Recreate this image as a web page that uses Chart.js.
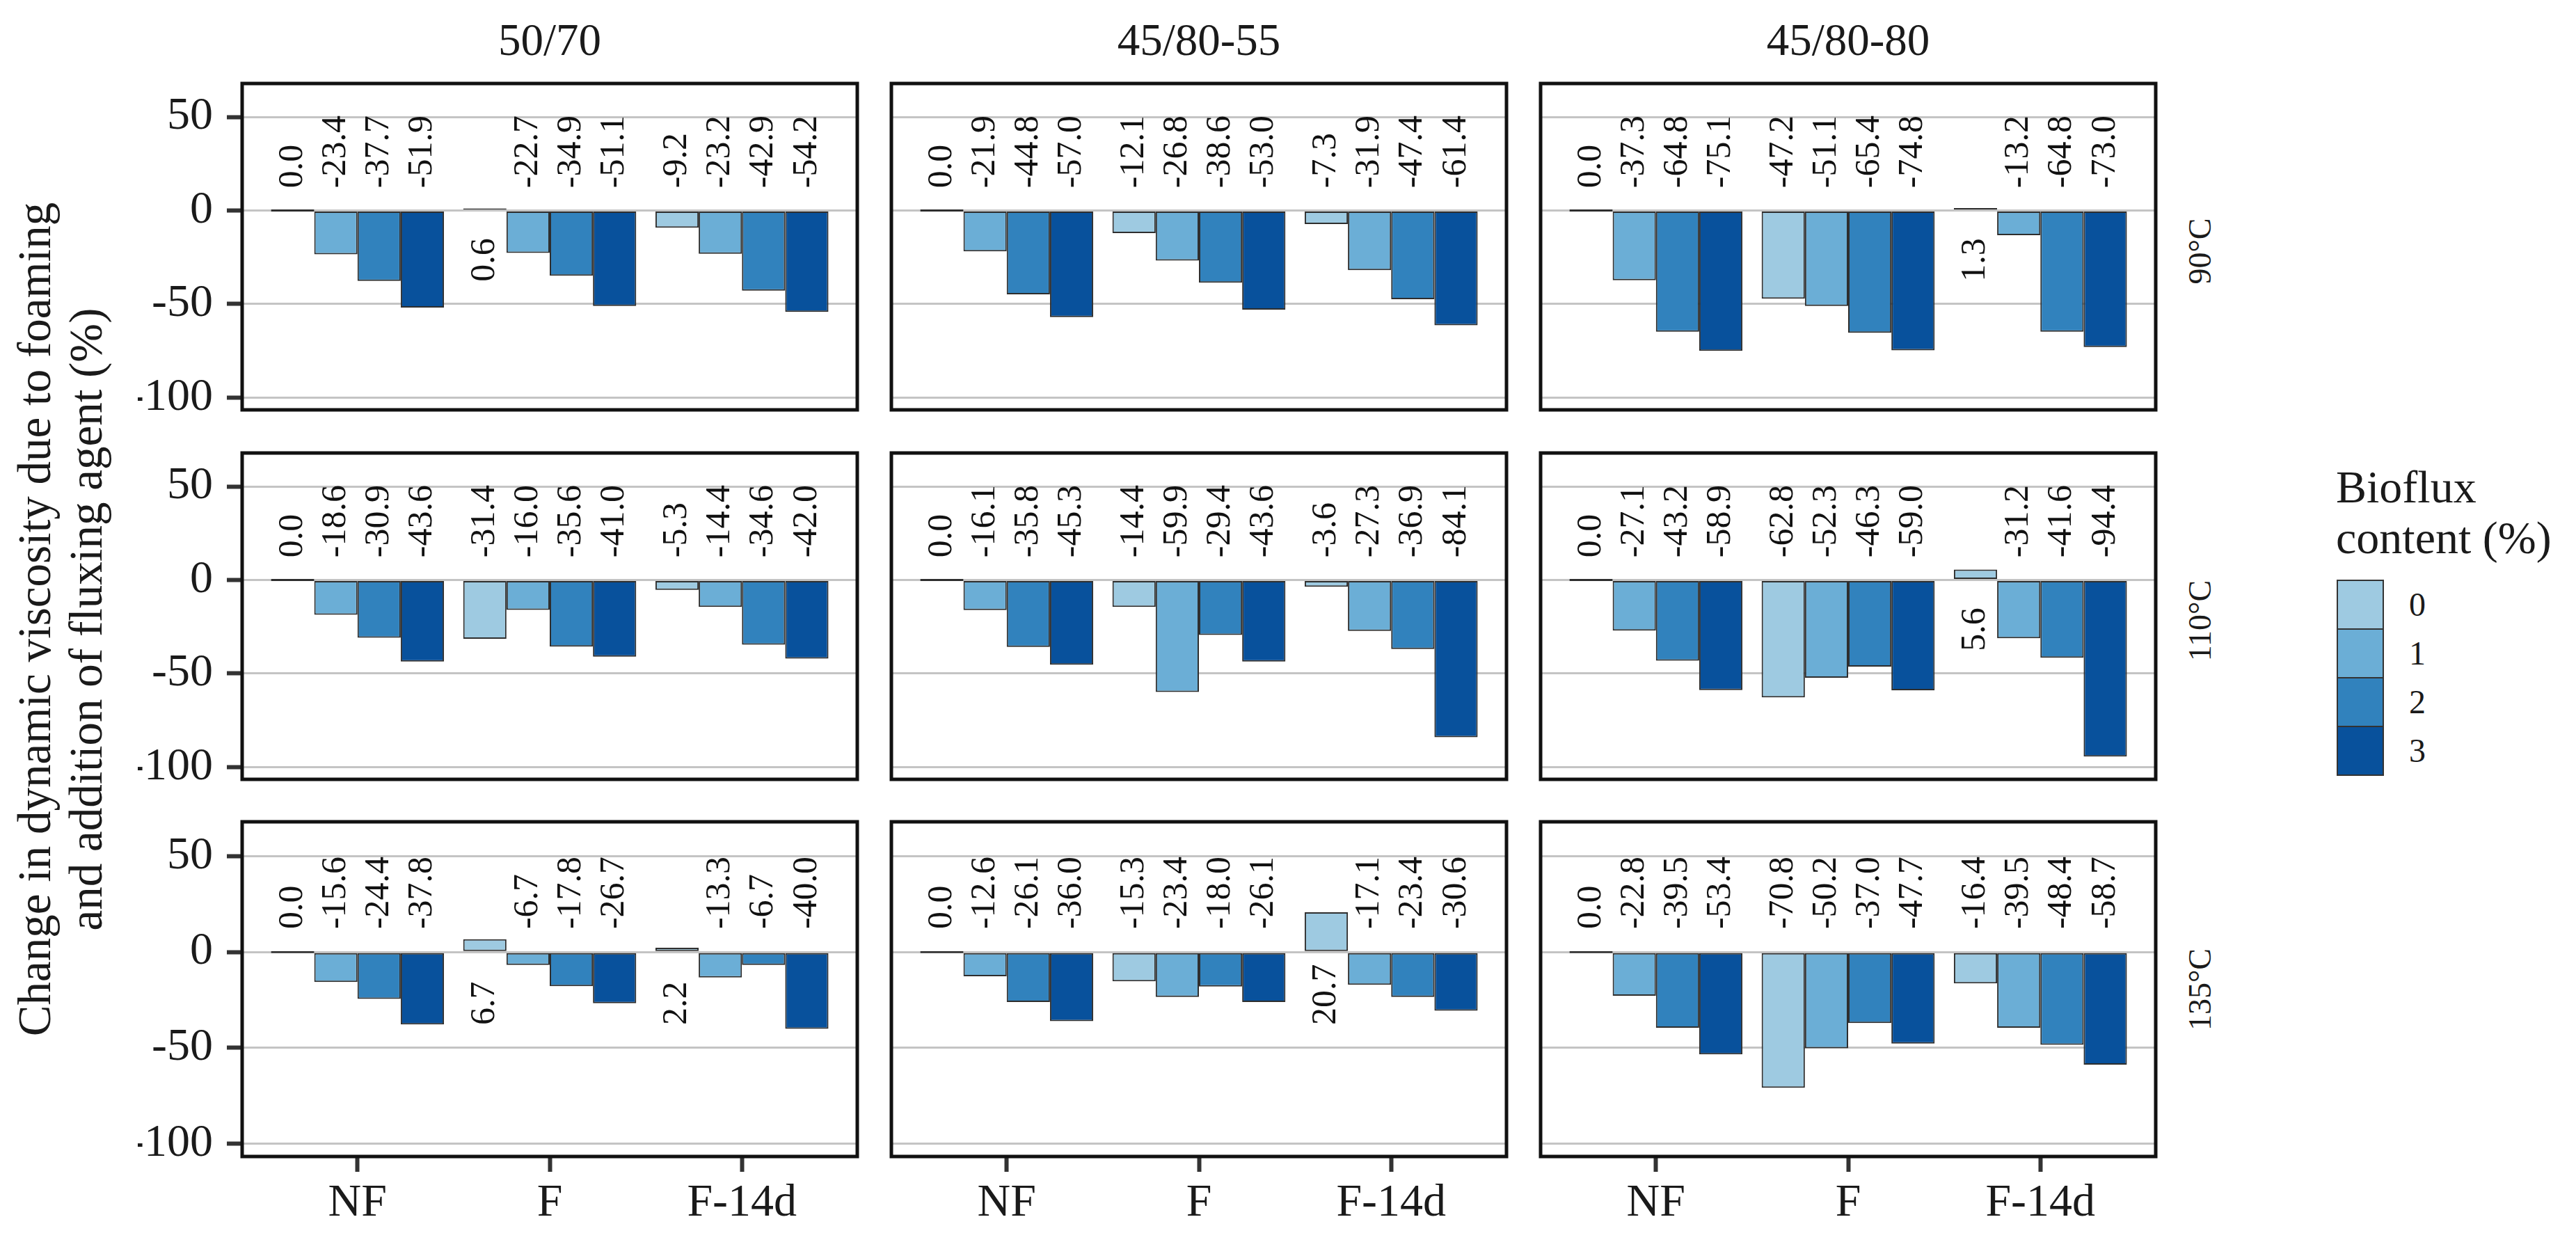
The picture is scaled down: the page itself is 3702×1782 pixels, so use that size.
<!DOCTYPE html>
<html><head><meta charset="utf-8">
<script src="https://cdn.jsdelivr.net/npm/chart.js@4.4.1/dist/chart.umd.min.js"></script>
<style>
html,body{margin:0;padding:0;background:#fff;}
#root{position:relative;width:3702px;height:1782px;overflow:hidden;font-family:'Liberation Serif','Times New Roman',serif;color:#1a1a1a;background:#fff;}
canvas{position:absolute;}
.txt{position:absolute;white-space:nowrap;line-height:1;}
.key{position:absolute;box-sizing:border-box;border:2px solid #333;}
</style></head><body><div id="root"></div>
<script>
// ---------------- data ----------------
const categories = ['NF', 'F', 'F-14d'];
const catPos = [1, 2, 3];
const binders = ['50/70', '45/80-55', '45/80-80'];
const temps = ['90°C', '110°C', '135°C'];
const biofluxLevels = ['0', '1', '2', '3'];
const yTicks = [-100, -50, 0, 50];

// each panel: rows = bioflux 0,1,2,3 ; columns = NF, F, F-14d
const t90_5070  = [[0.0, 0.6, -9.2], [-23.4, -22.7, -23.2], [-37.7, -34.9, -42.9], [-51.9, -51.1, -54.2]];
const t90_4555  = [[0.0, -12.1, -7.3], [-21.9, -26.8, -31.9], [-44.8, -38.6, -47.4], [-57.0, -53.0, -61.4]];
const t90_4580  = [[0.0, -47.2, 1.3], [-37.3, -51.1, -13.2], [-64.8, -65.4, -64.8], [-75.1, -74.8, -73.0]];
const t110_5070 = [[0.0, -31.4, -5.3], [-18.6, -16.0, -14.4], [-30.9, -35.6, -34.6], [-43.6, -41.0, -42.0]];
const t110_4555 = [[0.0, -14.4, -3.6], [-16.1, -59.9, -27.3], [-35.8, -29.4, -36.9], [-45.3, -43.6, -84.1]];
const t110_4580 = [[0.0, -62.8, 5.6], [-27.1, -52.3, -31.2], [-43.2, -46.3, -41.6], [-58.9, -59.0, -94.4]];
const t135_5070 = [[0.0, 6.7, 2.2], [-15.6, -6.7, -13.3], [-24.4, -17.8, -6.7], [-37.8, -26.7, -40.0]];
const t135_4555 = [[0.0, -15.3, 20.7], [-12.6, -23.4, -17.1], [-26.1, -18.0, -23.4], [-36.0, -26.1, -30.6]];
const t135_4580 = [[0.0, -70.8, -16.4], [-22.8, -50.2, -39.5], [-39.5, -37.0, -48.4], [-53.4, -47.7, -58.7]];

const panelValues = [
  [t90_5070, t90_4555, t90_4580],
  [t110_5070, t110_4555, t110_4580],
  [t135_5070, t135_4555, t135_4580]
];

// ---------------- style / layout ----------------
const colors = ['#9ECAE1', '#6BAED6', '#3182BD', '#08519C'];
const Y_MIN = -106.6, Y_MAX = 67.9;
const NEG_LABEL_AT = 12, POS_LABEL_AT = -38;
const colLeft = [348, 1281, 2214], panelW = 884;
const rowTop = [120, 651, 1181], panelH = 481;
const serif = "'Liberation Serif','Times New Roman',serif";

Chart.defaults.font.family = serif;
Chart.defaults.color = '#222';

const root = document.getElementById('root');

function addText(text, x, y, size, opts = {}) {
  const d = document.createElement('div');
  d.className = 'txt';
  d.textContent = text;
  d.style.fontSize = size + 'px';
  d.style.left = x + 'px';
  d.style.top = y + 'px';
  const tx = opts.align === 'left' ? '0' : '-50%';
  d.style.transform = `translate(${tx},-50%)` + (opts.rotate ? ` rotate(${opts.rotate}deg)` : '');
  if (opts.rotate) d.style.transformOrigin = opts.align === 'left' ? '0 50%' : '50% 50%';
  if (opts.spacing) d.style.letterSpacing = opts.spacing + 'px';
  root.appendChild(d);
  return d;
}

const borderPlugin = {
  id: 'panelBorder',
  afterDraw(chart) {
    const a = chart.chartArea, ctx = chart.ctx;
    ctx.save();
    ctx.strokeStyle = '#111';
    ctx.lineWidth = 5;
    ctx.strokeRect(a.left, a.top, a.right - a.left, a.bottom - a.top);
    ctx.restore();
  }
};

const labelPlugin = {
  id: 'valueLabels',
  afterDatasetsDraw(chart) {
    const ctx = chart.ctx, ys = chart.scales.y;
    ctx.save();
    ctx.font = '50px ' + serif;
    ctx.fillStyle = '#111';
    ctx.textAlign = 'left';
    ctx.textBaseline = 'middle';
    chart.data.datasets.forEach((ds, i) => {
      const meta = chart.getDatasetMeta(i);
      meta.data.forEach((bar, j) => {
        const v = ds.data[j].y;
        const yPix = ys.getPixelForValue(v > 0 ? POS_LABEL_AT : NEG_LABEL_AT);
        ctx.save();
        ctx.translate(bar.x, yPix);
        ctx.rotate(-Math.PI / 2);
        ctx.fillText(v.toFixed(1), 0, 0);
        ctx.restore();
      });
    });
    ctx.restore();
  }
};

function makePanel(r, c) {
  const vals = panelValues[r][c];
  const L = c === 0 ? 150 : 12, T = 12, R = 12, B = r === 2 ? 110 : 12;
  const cv = document.createElement('canvas');
  const w = L + panelW + R, h = T + panelH + B;
  cv.width = w; cv.height = h;
  cv.style.left = (colLeft[c] - L) + 'px';
  cv.style.top = (rowTop[r] - T) + 'px';
  cv.style.width = w + 'px'; cv.style.height = h + 'px';
  root.appendChild(cv);

  const datasets = biofluxLevels.map((lvl, i) => ({
    label: lvl,
    data: catPos.map((x, j) => ({ x: x, y: vals[i][j] })),
    backgroundColor: colors[i],
    borderColor: '#2e2e2e',
    borderWidth: 2,
    borderSkipped: false,
    minBarLength: 3,
    categoryPercentage: 0.9,
    barPercentage: 1.0
  }));

  new Chart(cv, {
    type: 'bar',
    data: { datasets },
    options: {
      responsive: false,
      devicePixelRatio: 1,
      animation: false,
      layout: { padding: { left: 0, top: T, right: R, bottom: r === 2 ? 0 : B } },
      plugins: { legend: { display: false }, tooltip: { enabled: false } },
      scales: {
        x: {
          type: 'linear', min: 0.4, max: 3.6, offset: false,
          display: r === 2,
          afterBuildTicks: s => { s.ticks = catPos.map(v => ({ value: v })); },
          afterFit: s => { s.height = B; s.paddingLeft = 0; s.paddingRight = 0; s.paddingTop = 0; s.paddingBottom = 0; },
          grid: { drawOnChartArea: false, drawTicks: true, tickLength: 22, tickColor: '#333', tickWidth: 6, offset: false },
          border: { display: false },
          ticks: {
            font: { size: 66 }, color: '#1a1a1a', padding: 6, maxRotation: 0, autoSkip: false,
            callback: (v, i) => categories[i]
          }
        },
        y: {
          type: 'linear', min: Y_MIN, max: Y_MAX, position: 'left',
          afterBuildTicks: s => { s.ticks = yTicks.map(v => ({ value: v })); },
          afterFit: s => { s.width = L; s.paddingTop = 0; s.paddingBottom = 0; s.paddingLeft = 0; s.paddingRight = 0; },
          grid: { color: '#c4c4c4', lineWidth: 3, drawTicks: c === 0, tickLength: 22, tickColor: '#333', tickWidth: 6 },
          border: { display: false },
          ticks: { display: c === 0, font: { size: 66 }, color: '#1a1a1a', padding: 20, callback: v => String(v) }
        }
      }
    },
    plugins: [labelPlugin, borderPlugin]
  });
}

for (let r = 0; r < 3; r++) for (let c = 0; c < 3; c++) makePanel(r, c);

// strip labels (columns)
binders.forEach((b, c) => addText(b, colLeft[c] + panelW / 2, 57, 65));
// strip labels (rows), reading bottom-to-top
temps.forEach((t, r) => addText(t, 3162, rowTop[r] + panelH / 2, 46, { rotate: -90 }));
// y-axis title (two lines)
addText('Change in dynamic viscosity due to foaming', 49, 890, 67, { rotate: -90 });
addText('and addition of fluxing agent (%)', 123, 890, 67, { rotate: -90 });

// legend
addText('Bioflux', 3357, 700, 66, { align: 'left' });
addText('content (%)', 3357, 773, 66, { align: 'left' });
biofluxLevels.forEach((lvl, i) => {
  const k = document.createElement('div');
  k.className = 'key';
  k.style.left = '3358px';
  k.style.top = (833 + i * 70) + 'px';
  k.style.width = '68px';
  k.style.height = '72px';
  k.style.background = colors[i];
  root.appendChild(k);
  addText(lvl, 3462, 833 + i * 70 + 36, 48, { align: 'left' });
});
</script></body></html>
